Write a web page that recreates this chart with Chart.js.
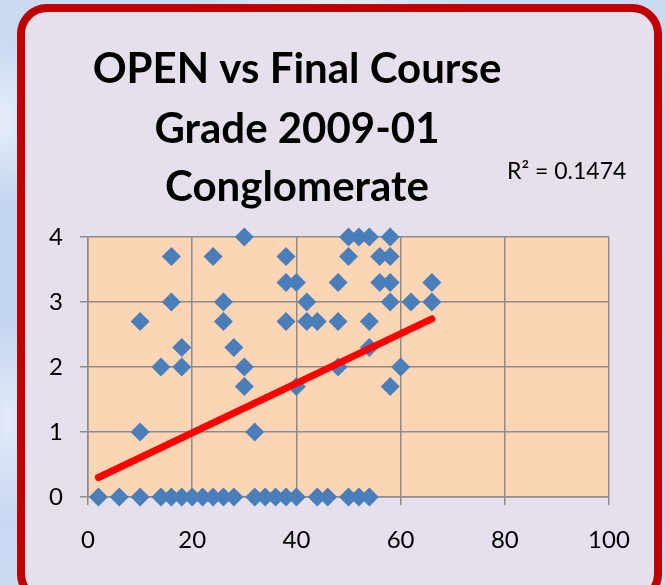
<!DOCTYPE html>
<html>
<head>
<meta charset="utf-8">
<script src="https://cdn.jsdelivr.net/npm/chart.js@4/dist/chart.umd.min.js"></script>
<style>
  html, body { margin: 0; padding: 0; width: 665px; height: 585px; overflow: hidden; }
  body {
    background:
      radial-gradient(ellipse 60px 120px at 5px 120px, rgba(255,255,255,0.55), rgba(255,255,255,0) 70%),
      radial-gradient(ellipse 50px 140px at 8px 420px, rgba(255,255,255,0.5), rgba(255,255,255,0) 70%),
      radial-gradient(ellipse 200px 20px at 330px 2px, rgba(255,255,255,0.5), rgba(255,255,255,0) 70%),
      linear-gradient(180deg, #c9daf2 0%, #c3d4f0 50%, #cbd9f3 100%);
    position: relative;
  }
  #card {
    position: absolute; left: 17px; top: 4px; width: 645px; height: 600px;
    box-sizing: border-box; border: 8px solid #C00000; border-radius: 30px;
    background: #E5E0EC;
  }
  #c { position: absolute; left: 0; top: 0; }
</style>
</head>
<body>
<div id="card"></div>
<canvas id="c" width="665" height="585"></canvas>
<script>
// OPEN score (x) and final course grade (y), paired by index
const openScores = [
  2, 6, 10, 14, 16, 18, 20, 22, 24, 26, 28, 32, 34, 36, 38, 40, 44, 46, 50, 52, 54,
  10, 32,
  30, 40, 58,
  14, 18, 30, 48, 60,
  18, 28, 54,
  10, 26, 38, 42, 44, 48, 54,
  16, 26, 42, 58, 62, 66,
  38, 40, 48, 56, 58, 66,
  16, 24, 38, 50, 56, 58,
  30, 50, 52, 54, 58
];
const finalGrades = [
  0, 0, 0, 0, 0, 0, 0, 0, 0, 0, 0, 0, 0, 0, 0, 0, 0, 0, 0, 0, 0,
  1, 1,
  1.7, 1.7, 1.7,
  2, 2, 2, 2, 2,
  2.3, 2.3, 2.3,
  2.7, 2.7, 2.7, 2.7, 2.7, 2.7, 2.7,
  3, 3, 3, 3, 3, 3,
  3.3, 3.3, 3.3, 3.3, 3.3, 3.3,
  3.7, 3.7, 3.7, 3.7, 3.7, 3.7,
  4, 4, 4, 4, 4
];
// Linear trendline endpoints
const trendX = [2, 66];
const trendY = [0.30, 2.74];
const xTicks = [0, 20, 40, 60, 80, 100];
const yTicks = [0, 1, 2, 3, 4];
const titleLines = ['OPEN vs Final Course', 'Grade 2009-01', 'Conglomerate'];
const rSquaredLabel = 'R² = 0.1474';

const scatterPts = openScores.map((x, i) => ({ x: x, y: finalGrades[i] }));
const trendPts = trendX.map((x, i) => ({ x: x, y: trendY[i] }));

const plotBg = {
  id: 'plotBg',
  beforeDraw(chart) {
    const a = chart.chartArea, ctx = chart.ctx;
    ctx.save();
    ctx.fillStyle = '#FCD5B5';
    ctx.fillRect(a.left, a.top, a.right - a.left, a.bottom - a.top);
    ctx.restore();
  }
};
const texts = {
  id: 'texts',
  afterDraw(chart) {
    const ctx = chart.ctx;
    ctx.save();
    ctx.fillStyle = '#000';
    ctx.textAlign = 'center';
    ctx.textBaseline = 'alphabetic';
    ctx.font = 'bold 42px Lato';
    const baselines = [83, 143, 201];
    titleLines.forEach((t, i) => ctx.fillText(t, 297, baselines[i]));
    ctx.font = '23px Lato';
    ctx.textAlign = 'left';
    ctx.fillText(rSquaredLabel, 507, 179);
    ctx.restore();
  }
};

const gridColor = '#8C8C8C';
new Chart(document.getElementById('c'), {
  type: 'scatter',
  data: {
    datasets: [
      {
        label: 'Linear trend',
        data: trendPts,
        showLine: true,
        borderColor: '#FF0000',
        borderWidth: 7,
        borderCapStyle: 'round',
        pointRadius: 0,
        fill: false,
        clip: false
      },
      {
        label: 'Final Grade',
        data: scatterPts,
        pointStyle: 'rectRot',
        pointRadius: 9.5,
        pointHoverRadius: 9.5,
        backgroundColor: '#4A7EBB',
        borderColor: '#4A7EBB',
        borderWidth: 0,
        clip: false
      }
    ]
  },
  options: {
    responsive: false,
    animation: false,
    events: [],
    layout: { padding: { top: 237, right: 56, left: 0, bottom: 0 } },
    plugins: { legend: { display: false }, title: { display: false }, tooltip: { enabled: false } },
    scales: {
      x: {
        type: 'linear', min: 0, max: 100,
        afterBuildTicks(s) { s.ticks = xTicks.map(v => ({ value: v })); },
        afterFit(s) { s.height = 88; },
        ticks: { font: { family: 'Lato', size: 24 }, color: '#000', padding: 21 },
        grid: { color: gridColor, lineWidth: 1.5, tickLength: 8 },
        border: { color: gridColor, width: 1.5 }
      },
      y: {
        type: 'linear', min: 0, max: 4,
        afterBuildTicks(s) { s.ticks = yTicks.map(v => ({ value: v })); },
        afterFit(s) { s.width = 88; },
        ticks: { font: { family: 'Lato', size: 24 }, color: '#000', padding: 17 },
        grid: { color: gridColor, lineWidth: 1.5, tickLength: 8 },
        border: { color: gridColor, width: 1.5 }
      }
    }
  },
  plugins: [plotBg, texts]
});
</script>
</body>
</html>
